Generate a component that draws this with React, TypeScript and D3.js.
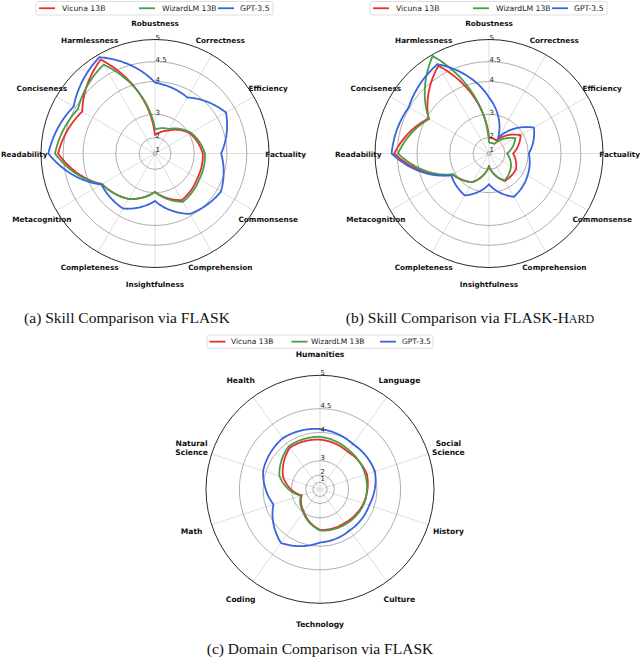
import React from "react";
import * as d3 from "d3";

const seriesNames = ["Vicuna 13B", "WizardLM 13B", "GPT-3.5"];
const seriesColors = ["#ec2d2d", "#4a9c48", "#3a63e0"];

const skillAxes = [
  "Robustness", "Correctness", "Efficiency", "Factuality", "Commonsense", "Comprehension",
  "Insightfulness", "Completeness", "Metacognition", "Readability", "Conciseness", "Harmlessness",
];
const skillVicuna = [2.12, 2.5, 3.04, 3.29, 3.33, 3.48, 2.97, 3.44, 3.7, 4.62, 4.31, 4.88];
const skillWizard = [2.4, 2.58, 3.08, 3.36, 3.4, 3.54, 2.97, 3.44, 3.7, 4.69, 4.43, 4.75];
const skillGpt = [3.97, 3.8, 4.26, 3.84, 4.11, 3.94, 3.28, 3.77, 3.72, 4.84, 4.55, 4.94];

const hardVicuna = [2.0, 1.95, 2.9, 2.4, 2.7, 2.72, 1.8, 2.77, 3.1, 4.57, 3.94, 4.72];
const hardWizard = [1.7, 1.72, 2.67, 2.11, 2.46, 2.7, 1.8, 2.77, 3.08, 4.48, 3.92, 4.97];
const hardGpt = [3.55, 2.1, 3.42, 3.02, 3.18, 3.36, 2.68, 3.31, 3.15, 4.63, 4.52, 4.76];

const domainAxes = [
  "Humanities", "Language", "Social\nScience", "History", "Culture",
  "Technology", "Coding", "Math", "Natural\nScience", "Health",
];
const domainVicuna = [3.8, 3.71, 3.79, 3.68, 3.55, 3.51, 2.95, 2.43, 3.44, 3.85];
const domainWizard = [3.88, 3.77, 3.74, 3.7, 3.6, 3.53, 3.0, 2.5, 3.58, 3.9];
const domainGpt = [4.08, 3.97, 4.02, 3.86, 3.83, 3.9, 4.22, 3.78, 4.07, 4.15];

const radialTicks = [1, 2, 3, 4, 4.5, 5];

const R = 114;
// skill charts: radius linear in v^2
const skillPow = d3.scalePow().exponent(2).domain([Math.sqrt(0.6), 5]).range([0, R]);
const skillR = (v: number) => skillPow(v);
// domain chart: radius linear in 2^v
const domainLin = d3.scaleLinear().domain([0, 32]).range([0, R]);
const domainR = (v: number) => domainLin(Math.pow(2, v));

const SANS = "DejaVu Sans, Verdana, sans-serif";
const SERIF = "Liberation Serif, Times New Roman, serif";

function spiral(values: number[], rf: (v: number) => number): string {
  const n = values.length;
  const pts: [number, number][] = [];
  const S = 40;
  for (let i = 0; i < n; i++) {
    const a0 = (i * 2 * Math.PI) / n;
    const a1 = ((i + 1) * 2 * Math.PI) / n;
    const r0 = rf(values[i]);
    const r1 = rf(values[(i + 1) % n]);
    for (let s = 0; s < S; s++) {
      const f = s / S;
      pts.push([a0 + (a1 - a0) * f, r0 + (r1 - r0) * f]);
    }
  }
  pts.push(pts[0]);
  const line = d3.lineRadial<[number, number]>().angle((d) => d[0]).radius((d) => d[1]);
  return line(pts) || "";
}

type RadarProps = {
  cx: number;
  cy: number;
  axes: string[];
  series: number[][];
  rf: (v: number) => number;
  labelR: number;
  labelFont: number;
  tickFont: number;
  tickOffset: number;
};

function Radar({ cx, cy, axes, series, rf, labelR, labelFont, tickFont, tickOffset }: RadarProps) {
  const n = axes.length;
  const angles = d3.range(n).map((i) => (i * 2 * Math.PI) / n);
  return (
    <g transform={`translate(${cx},${cy})`}>
      {angles.map((a, i) => (
        <line key={"s" + i} x1={0} y1={0} x2={R * Math.sin(a)} y2={-R * Math.cos(a)} stroke="#d6d6d6" strokeWidth={0.8} />
      ))}
      {radialTicks.slice(0, -1).map((t) => (
        <circle key={"c" + t} r={rf(t)} fill="none" stroke="#8c8c8c" strokeWidth={0.7} />
      ))}
      <circle r={R} fill="none" stroke="#111" strokeWidth={0.9} />
      {series.map((vals, k) => (
        <path key={"p" + k} d={spiral(vals, rf)} fill="none" stroke={seriesColors[k]} strokeWidth={1.8} strokeLinejoin="round" />
      ))}
      {radialTicks.map((t) => (
        <text key={"t" + t} x={0.5} y={-(rf(t) + tickOffset)} fontFamily={SANS} fontSize={tickFont} dominantBaseline="central" fill="#222">
          {String(t)}
        </text>
      ))}
      {axes.map((name, i) => {
        const a = angles[i];
        const x = labelR * Math.sin(a);
        const y = -labelR * Math.cos(a);
        const lines = name.split("\n");
        const lh = labelFont * 1.15;
        return (
          <text key={"l" + i} x={x} y={y - ((lines.length - 1) * lh) / 2} textAnchor="middle" dominantBaseline="central" fontFamily={SANS} fontWeight="bold" fontSize={labelFont} fill="#111">
            {lines.map((ln, j) => (
              <tspan key={j} x={x} dy={j === 0 ? 0 : lh}>{ln}</tspan>
            ))}
          </text>
        );
      })}
    </g>
  );
}

type LegendProps = {
  x: number; y: number; w: number; h: number;
  lineX: number[]; textX: number[]; lineLen: number; font: number;
};

function Legend({ x, y, w, h, lineX, textX, lineLen, font }: LegendProps) {
  const my = y + h / 2;
  return (
    <g>
      <rect x={x} y={y} width={w} height={h} rx={2} fill="#fff" fillOpacity={0.8} stroke="#d0d0d0" strokeWidth={0.7} />
      {seriesNames.map((s, i) => (
        <g key={s}>
          <line x1={lineX[i]} x2={lineX[i] + lineLen} y1={my} y2={my} stroke={seriesColors[i]} strokeWidth={1.8} />
          <text x={textX[i]} y={my} dominantBaseline="central" fontFamily={SANS} fontSize={font} fill="#222">{s}</text>
        </g>
      ))}
    </g>
  );
}

export default function App() {
  return (
    <svg width={640} height={659} style={{ position: "absolute", left: 0, top: 0, background: "#fff" }}>
      <rect width={640} height={659} fill="#fff" />
      <Radar cx={155} cy={153.5} axes={skillAxes} series={[skillVicuna, skillWizard, skillGpt]} rf={skillR} labelR={130.7} labelFont={7.3} tickFont={7} tickOffset={1.5} />
      <Radar cx={489} cy={153.5} axes={skillAxes} series={[hardVicuna, hardWizard, hardGpt]} rf={skillR} labelR={130.7} labelFont={7.3} tickFont={7} tickOffset={1.5} />
      <Radar cx={320} cy={489.3} axes={domainAxes} series={[domainVicuna, domainWizard, domainGpt]} rf={domainR} labelR={135} labelFont={7.6} tickFont={6.8} tickOffset={2.8} />

      <Legend x={36} y={1.5} w={237} h={13.5} lineX={[39, 139, 218]} textX={[62, 162, 240]} lineLen={16} font={7.7} />
      <Legend x={370} y={1.5} w={237} h={13.5} lineX={[373, 473, 552]} textX={[396, 496, 574]} lineLen={16} font={7.7} />
      <Legend x={207} y={335} w={226} h={13.3} lineX={[209.5, 291.5, 380]} textX={[231, 311, 402]} lineLen={16} font={7.5} />

      <text x={127} y={323} textAnchor="middle" fontFamily={SERIF} fontSize={15.5} fill="#111">(a) Skill Comparison via FLASK</text>
      <text x={470} y={323} textAnchor="middle" fontFamily={SERIF} fontSize={15.5} fill="#111">
        (b) Skill Comparison via FLASK-H<tspan fontSize={12}>ARD</tspan>
      </text>
      <text x={320} y={654} textAnchor="middle" fontFamily={SERIF} fontSize={15.5} fill="#111">(c) Domain Comparison via FLASK</text>
    </svg>
  );
}
